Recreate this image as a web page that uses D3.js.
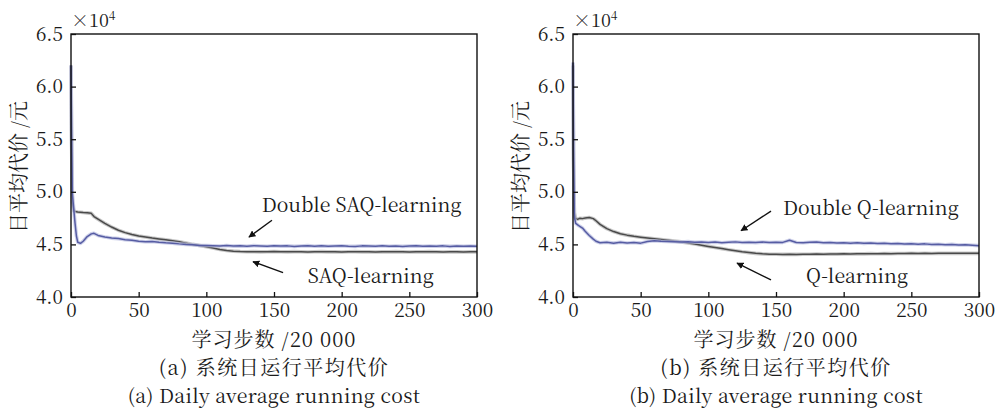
<!DOCTYPE html>
<html>
<head>
<meta charset="utf-8">
<script src="https://cdn.jsdelivr.net/npm/d3@7"></script>
<style>
body { margin: 0; background: #fff; }
svg text { font-family: "Noto Serif CJK SC", "Liberation Serif", serif; fill: #1a1a1a; }
</style>
</head>
<body>
<svg id="chart" width="997" height="413"></svg>
<script>
'use strict';

var xTicks = [0, 50, 100, 150, 200, 250, 300];
var yTicks = [4.0, 4.5, 5.0, 5.5, 6.0, 6.5];

// learning steps (x 20 000), shared by all four curves
var steps = [0, 0.4, 1, 2, 3, 4, 5, 7, 9, 12, 15, 17,
    20, 25, 30, 35, 40, 45, 50, 55, 60, 65, 70, 75, 80, 85, 90, 95,
    100, 105, 110, 115, 120, 125, 130, 135, 140, 145, 150, 155, 160, 165, 170, 175,
    180, 185, 190, 195, 200, 205, 210, 215, 220, 225, 230, 235, 240, 245, 250, 255,
    260, 265, 270, 275, 280, 285, 290, 295, 300];

// (a) Double SAQ-learning (x 10^4)
var costDoubleSAQ = [6.20, 5.60, 4.98, 4.84, 4.70, 4.58, 4.52, 4.51, 4.53, 4.575, 4.60, 4.605,
    4.585, 4.57, 4.56, 4.555, 4.545, 4.54, 4.53, 4.525, 4.527, 4.52, 4.515, 4.512, 4.505, 4.50, 4.497, 4.49,
    4.49, 4.487, 4.485, 4.49, 4.484, 4.486, 4.483, 4.488, 4.485, 4.482, 4.487, 4.484, 4.486, 4.481, 4.485, 4.488,
    4.483, 4.486, 4.482, 4.485, 4.487, 4.483, 4.481, 4.486, 4.484, 4.482, 4.487, 4.483, 4.485, 4.481, 4.484, 4.486,
    4.482, 4.485, 4.483, 4.486, 4.481, 4.484, 4.482, 4.485, 4.483];

// (a) SAQ-learning
var costSAQ = [6.20, 5.50, 4.90, 4.82, 4.812, 4.81, 4.808, 4.806, 4.803, 4.80, 4.795, 4.765,
    4.74, 4.70, 4.665, 4.635, 4.612, 4.595, 4.58, 4.57, 4.56, 4.552, 4.545, 4.535, 4.525, 4.512, 4.50, 4.49,
    4.478, 4.465, 4.452, 4.442, 4.436, 4.432, 4.43, 4.431, 4.429, 4.43, 4.432, 4.43, 4.429, 4.431, 4.43, 4.428,
    4.43, 4.431, 4.429, 4.43, 4.428, 4.43, 4.431, 4.429, 4.43, 4.428, 4.43, 4.429, 4.431, 4.429, 4.428, 4.43,
    4.429, 4.431, 4.429, 4.428, 4.43, 4.429, 4.428, 4.43, 4.429];

// (b) Double Q-learning
var costDoubleQ = [6.23, 5.40, 4.76, 4.70, 4.69, 4.68, 4.672, 4.655, 4.625, 4.585, 4.55, 4.53,
    4.515, 4.52, 4.512, 4.52, 4.514, 4.518, 4.512, 4.528, 4.535, 4.53, 4.528, 4.525, 4.522, 4.526, 4.52, 4.523,
    4.518, 4.522, 4.516, 4.52, 4.524, 4.518, 4.521, 4.517, 4.522, 4.518, 4.52, 4.519, 4.54, 4.518, 4.516, 4.52,
    4.522, 4.515, 4.518, 4.513, 4.516, 4.512, 4.515, 4.51, 4.513, 4.508, 4.511, 4.506, 4.509, 4.504, 4.507, 4.502,
    4.505, 4.50, 4.502, 4.497, 4.50, 4.495, 4.497, 4.492, 4.488];

// (b) Q-learning
var costQ = [6.20, 5.30, 4.80, 4.745, 4.74, 4.742, 4.748, 4.745, 4.75, 4.755, 4.745, 4.725,
    4.69, 4.65, 4.622, 4.602, 4.588, 4.577, 4.568, 4.56, 4.553, 4.547, 4.54, 4.532, 4.524, 4.514, 4.503, 4.492,
    4.481, 4.47, 4.46, 4.45, 4.44, 4.43, 4.422, 4.415, 4.41, 4.407, 4.406, 4.405, 4.406, 4.405, 4.407, 4.406,
    4.408, 4.407, 4.409, 4.408, 4.41, 4.409, 4.411, 4.41, 4.412, 4.411, 4.413, 4.412, 4.414, 4.413, 4.415, 4.414,
    4.415, 4.414, 4.416, 4.415, 4.416, 4.415, 4.416, 4.415, 4.415];

var panels = [
    {
        left: 71, right: 477,
        blue: costDoubleSAQ, gray: costSAQ,
        tag: "(a) ",
        captionZh: "系统日运行平均代价",
        captionEn: "(a) Daily average running cost",
        notes: [
            { text: "Double SAQ-learning", tx: 141, ty: 4.81, from: [148.5, 4.73], to: [131.5, 4.57] },
            { text: "SAQ-learning", tx: 175, ty: 4.133, from: [156.7, 4.231], to: [134.5, 4.335] }
        ]
    },
    {
        left: 573, right: 979,
        blue: costDoubleQ, gray: costQ,
        tag: "(b) ",
        captionZh: "系统日运行平均代价",
        captionEn: "(b) Daily average running cost",
        notes: [
            { text: "Double Q-learning", tx: 155.2, ty: 4.78, from: [146.3, 4.817], to: [124.2, 4.63] },
            { text: "Q-learning", tx: 172.2, ty: 4.133, from: [146.3, 4.162], to: [121.2, 4.323] }
        ]
    }
];

var plotTop = 34, plotBottom = 297;
var svg = d3.select("#chart");

svg.append("defs").append("marker")
    .attr("id", "head")
    .attr("viewBox", "0 0 10 10")
    .attr("refX", 9).attr("refY", 5)
    .attr("markerWidth", 7).attr("markerHeight", 7)
    .attr("markerUnits", "userSpaceOnUse")
    .attr("orient", "auto")
    .append("path")
    .attr("d", "M0,0 L10,5 L0,10 Z")
    .attr("fill", "#111");

panels.forEach(function (p) {
    var x = d3.scaleLinear().domain([0, 300]).range([p.left, p.right]);
    var y = d3.scaleLinear().domain([4.0, 6.5]).range([plotBottom, plotTop]);
    var g = svg.append("g");

    var line = d3.line()
        .x(function (d, i) { return x(steps[i]); })
        .y(function (d) { return y(d); });

    // curves: soft halo under a thin core, to look like the scanned print
    [{ v: p.gray, halo: "#b0b0b0", core: "#4a4a4a" },
     { v: p.blue, halo: "#b9bde0", core: "#565ca3" }].forEach(function (s) {
        g.append("path").attr("d", line(s.v))
            .attr("fill", "none").attr("stroke", s.halo)
            .attr("stroke-width", 3.6).attr("stroke-opacity", 0.7)
            .attr("stroke-linejoin", "round");
        g.append("path").attr("d", line(s.v))
            .attr("fill", "none").attr("stroke", s.core)
            .attr("stroke-width", 1.5)
            .attr("stroke-linejoin", "round");
    });

    // frame
    g.append("rect")
        .attr("x", p.left).attr("y", plotTop)
        .attr("width", p.right - p.left).attr("height", plotBottom - plotTop)
        .attr("fill", "none").attr("stroke", "#111").attr("stroke-width", 1.4);

    var xAxis = g.append("g")
        .attr("transform", "translate(0," + plotBottom + ")")
        .call(d3.axisBottom(x).tickValues(xTicks).tickSize(-5).tickPadding(6));
    var yAxis = g.append("g")
        .attr("transform", "translate(" + p.left + ",0)")
        .call(d3.axisLeft(y).tickValues(yTicks).tickSize(-5).tickPadding(8)
            .tickFormat(d3.format(".1f")));

    [xAxis, yAxis].forEach(function (a) {
        a.attr("font-family", null);
        a.select(".domain").remove();
        a.selectAll(".tick line").attr("stroke", "#111").attr("stroke-width", 1.3);
        a.selectAll(".tick text")
            .style("font-family", "'Noto Serif CJK SC', serif")
            .style("font-size", "19px")
            .attr("fill", "#1a1a1a");
    });

    // x10^4 multiplier
    var mult = g.append("text")
        .attr("x", p.left)
        .attr("y", 27)
        .style("font-size", "18px");
    mult.append("tspan").text("×10");
    mult.append("tspan").attr("dy", -7).style("font-size", "12px").text("4");

    // y axis title
    g.append("text")
        .attr("transform", "translate(" + (p.left - 45) + "," + 167 + ") rotate(-90)")
        .attr("text-anchor", "middle")
        .style("font-size", "20px")
        .text("日平均代价 /元");

    var mid = (p.left + p.right) / 2;
    g.append("text")
        .attr("x", mid).attr("y", 347)
        .attr("text-anchor", "middle")
        .style("font-size", "20px")
        .style("letter-spacing", "1px")
        .text("学习步数 /20 000");

    g.append("text")
        .attr("x", mid).attr("y", 375)
        .attr("text-anchor", "middle")
        .style("font-size", "20px")
        .style("letter-spacing", "1.5px")
        .text(p.tag + p.captionZh);

    g.append("text")
        .attr("x", mid).attr("y", 403)
        .attr("text-anchor", "middle")
        .style("font-size", "19.5px")
        .style("letter-spacing", "0.3px")
        .text(p.captionEn);

    // annotations
    p.notes.forEach(function (n) {
        g.append("text")
            .attr("x", x(n.tx)).attr("y", y(n.ty))
            .style("font-size", "19.5px")
            .text(n.text);
        g.append("line")
            .attr("x1", x(n.from[0])).attr("y1", y(n.from[1]))
            .attr("x2", x(n.to[0])).attr("y2", y(n.to[1]))
            .attr("stroke", "#111").attr("stroke-width", 1.4)
            .attr("marker-end", "url(#head)");
    });
});
</script>
</body>
</html>
